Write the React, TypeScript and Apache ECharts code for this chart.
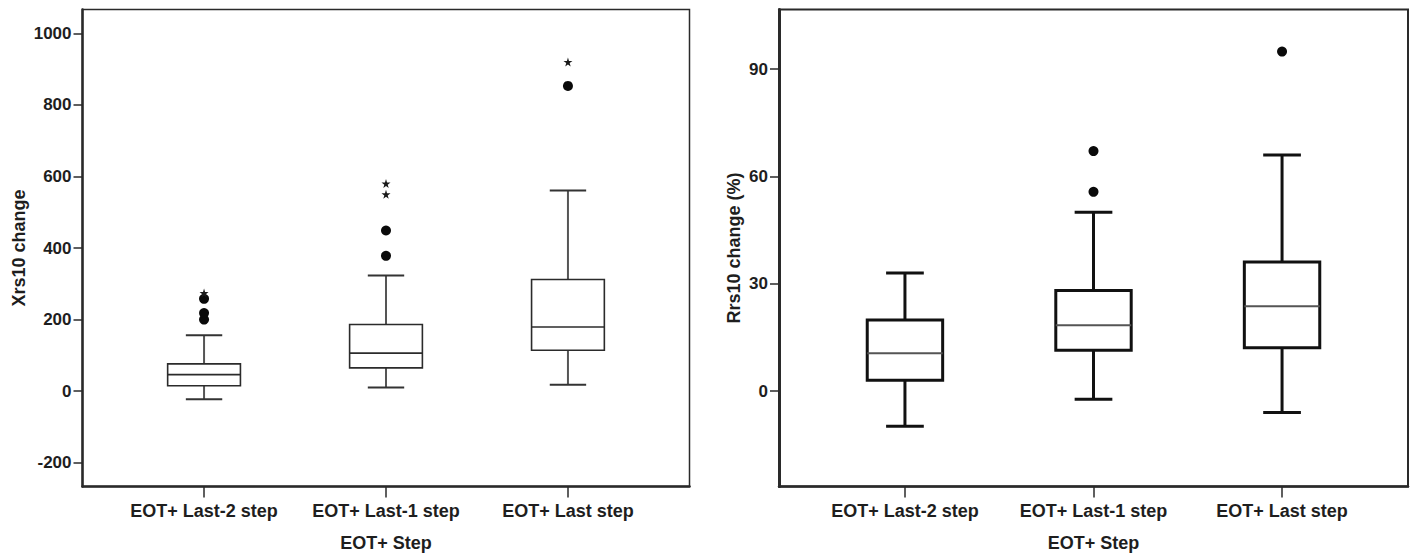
import React, { useEffect, useRef } from 'react';
import * as echarts from 'echarts';

// ---------- data ----------
const categories = ['EOT+ Last-2 step', 'EOT+ Last-1 step', 'EOT+ Last step'];

// [min whisker, Q1, median, Q3, max whisker]
const xrsBoxes = [
  [-23, 15, 46, 76, 156],
  [10, 65, 106, 186, 323],
  [18, 114, 179, 312, 561],
];
// [category index, value]
const xrsOutliers = [
  [0, 200],
  [0, 218],
  [0, 258],
  [1, 378],
  [1, 449],
  [2, 853],
];
const xrsExtremes = [
  [0, 274],
  [1, 550],
  [1, 580],
  [2, 920],
];

const rrsBoxes = [
  [-9.8, 3.0, 10.6, 19.9, 33.0],
  [-2.3, 11.4, 18.4, 28.1, 50.0],
  [-6.0, 12.1, 23.7, 36.1, 66.0],
];
const rrsOutliers = [
  [1, 55.7],
  [1, 67.1],
  [2, 94.9],
];

const xrsTicks = [-200, 0, 200, 400, 600, 800, 1000];
const rrsTicks = [0, 30, 60, 90];
const catTicks = [0, 1, 2];

const FONT = '"Liberation Sans", Arial, Helvetica, sans-serif';
const TEXT = '#1e1e1e';
const STAR = 'path://M50,0 L61,35 L98,35 L68,57 L79,91 L50,70 L21,91 L32,57 L2,35 L39,35 Z';

type BoxStyle = {
  box: string;
  boxWidth: number;
  whisker: string;
  whiskerWidth: number;
  cap: string;
  capWidth: number;
  median: string;
  medianWidth: number;
};

function boxRenderer(s: BoxStyle) {
  return (params: any, api: any) => {
    const x = api.value(0);
    const ys = [1, 2, 3, 4, 5].map((i) => api.coord([x, api.value(i)])[1]);
    const cx = api.coord([x, 0])[0];
    const band = api.size([1, 0])[0];
    const half = band * 0.2;
    const cap = band * 0.1;
    const [yMin, yQ1, yMed, yQ3, yMax] = ys;
    return {
      type: 'group',
      children: [
        { type: 'line', shape: { x1: cx, y1: yQ3, x2: cx, y2: yMax }, style: { stroke: s.whisker, lineWidth: s.whiskerWidth } },
        { type: 'line', shape: { x1: cx, y1: yQ1, x2: cx, y2: yMin }, style: { stroke: s.whisker, lineWidth: s.whiskerWidth } },
        { type: 'line', shape: { x1: cx - cap, y1: yMax, x2: cx + cap, y2: yMax }, style: { stroke: s.cap, lineWidth: s.capWidth } },
        { type: 'line', shape: { x1: cx - cap, y1: yMin, x2: cx + cap, y2: yMin }, style: { stroke: s.cap, lineWidth: s.capWidth } },
        { type: 'rect', shape: { x: cx - half, y: yQ3, width: half * 2, height: yQ1 - yQ3 }, style: { fill: '#fff', stroke: s.box, lineWidth: s.boxWidth } },
        { type: 'line', shape: { x1: cx - half, y1: yMed, x2: cx + half, y2: yMed }, style: { stroke: s.median, lineWidth: s.medianWidth } },
      ],
    };
  };
}

function xAxisCfg(gridIndex: number) {
  return {
    type: 'value',
    gridIndex,
    min: -0.668,
    max: 2.668,
    name: 'EOT+ Step',
    nameLocation: 'middle',
    nameGap: 47,
    nameTextStyle: { fontFamily: FONT, fontSize: 18, fontWeight: 'bold', color: TEXT },
    splitLine: { show: false },
    axisLine: { show: true, onZero: false, lineStyle: { color: '#2a2a2a', width: 2.5 } },
    axisTick: { show: true, customValues: catTicks, length: 11, lineStyle: { color: '#2a2a2a', width: 1.5 } },
    axisLabel: {
      customValues: catTicks,
      margin: 15,
      fontFamily: FONT,
      fontSize: 18,
      fontWeight: 'bold',
      color: TEXT,
      formatter: (v: number) => categories[Math.round(v)] ?? '',
    },
  };
}

function yAxisCfg(gridIndex: number, min: number, max: number, ticks: number[], name: string, nameGap: number, lw: number) {
  return {
    type: 'value',
    gridIndex,
    min,
    max,
    name,
    nameLocation: 'middle',
    nameGap,
    nameTextStyle: { fontFamily: FONT, fontSize: 18, fontWeight: 'bold', color: TEXT },
    splitLine: { show: false },
    axisLine: { show: true, onZero: false, lineStyle: { color: '#2a2a2a', width: lw } },
    axisTick: { show: true, customValues: ticks, length: 9, lineStyle: { color: '#2a2a2a', width: 1.5 } },
    axisLabel: {
      customValues: ticks,
      margin: 11,
      fontFamily: FONT,
      fontSize: 17,
      fontWeight: 'bold',
      color: TEXT,
      formatter: (v: number) => String(v),
    },
  };
}

export default function App() {
  const ref = useRef<HTMLDivElement>(null);

  useEffect(() => {
    if (!ref.current) return;
    const chart = echarts.init(ref.current, undefined, { renderer: 'svg' });

    const leftStyle: BoxStyle = {
      box: '#2b2b2b', boxWidth: 1.6,
      whisker: '#555', whiskerWidth: 2,
      cap: '#333', capWidth: 2,
      median: '#2b2b2b', medianWidth: 1.6,
    };
    const rightStyle: BoxStyle = {
      box: '#111', boxWidth: 3,
      whisker: '#111', whiskerWidth: 3,
      cap: '#111', capWidth: 3,
      median: '#555', medianWidth: 2,
    };

    chart.setOption({
      animation: false,
      backgroundColor: '#fff',
      grid: [
        { left: 82.5, top: 9.5, width: 607, height: 477, show: true, borderColor: '#2a2a2a', borderWidth: 1.5, backgroundColor: 'transparent', outerBoundsMode: 'none', containLabel: false },
        { left: 779, top: 9.5, width: 629, height: 477, show: true, borderColor: '#2a2a2a', borderWidth: 2, backgroundColor: 'transparent', outerBoundsMode: 'none', containLabel: false },
      ],
      xAxis: [xAxisCfg(0), xAxisCfg(1)],
      yAxis: [
        yAxisCfg(0, -266.7, 1066.7, xrsTicks, 'Xrs10 change', 55, 2.5),
        yAxisCfg(1, -26.67, 106.67, rrsTicks, 'Rrs10 change (%)', 36, 3),
      ],
      series: [
        {
          type: 'custom',
          xAxisIndex: 0,
          yAxisIndex: 0,
          renderItem: boxRenderer(leftStyle),
          encode: { x: 0, y: [1, 2, 3, 4, 5] },
          data: xrsBoxes.map((b, i) => [i, ...b]),
          z: 2,
        },
        {
          type: 'scatter',
          xAxisIndex: 0,
          yAxisIndex: 0,
          symbol: 'circle',
          symbolSize: 10,
          itemStyle: { color: '#0a0a0a', opacity: 1 },
          data: xrsOutliers,
          z: 3,
        },
        {
          type: 'scatter',
          xAxisIndex: 0,
          yAxisIndex: 0,
          symbol: STAR,
          symbolSize: 9,
          itemStyle: { color: '#1a1a1a', opacity: 1 },
          data: xrsExtremes,
          z: 4,
        },
        {
          type: 'custom',
          xAxisIndex: 1,
          yAxisIndex: 1,
          renderItem: boxRenderer(rightStyle),
          encode: { x: 0, y: [1, 2, 3, 4, 5] },
          data: rrsBoxes.map((b, i) => [i, ...b]),
          z: 2,
        },
        {
          type: 'scatter',
          xAxisIndex: 1,
          yAxisIndex: 1,
          symbol: 'circle',
          symbolSize: 10,
          itemStyle: { color: '#0a0a0a', opacity: 1 },
          data: rrsOutliers,
          z: 3,
        },
      ],
    });

    return () => chart.dispose();
  }, []);

  return (
    <div
      ref={ref}
      style={{ position: 'fixed', left: 0, top: 0, width: 1413, height: 557, background: '#fff' }}
    />
  );
}
